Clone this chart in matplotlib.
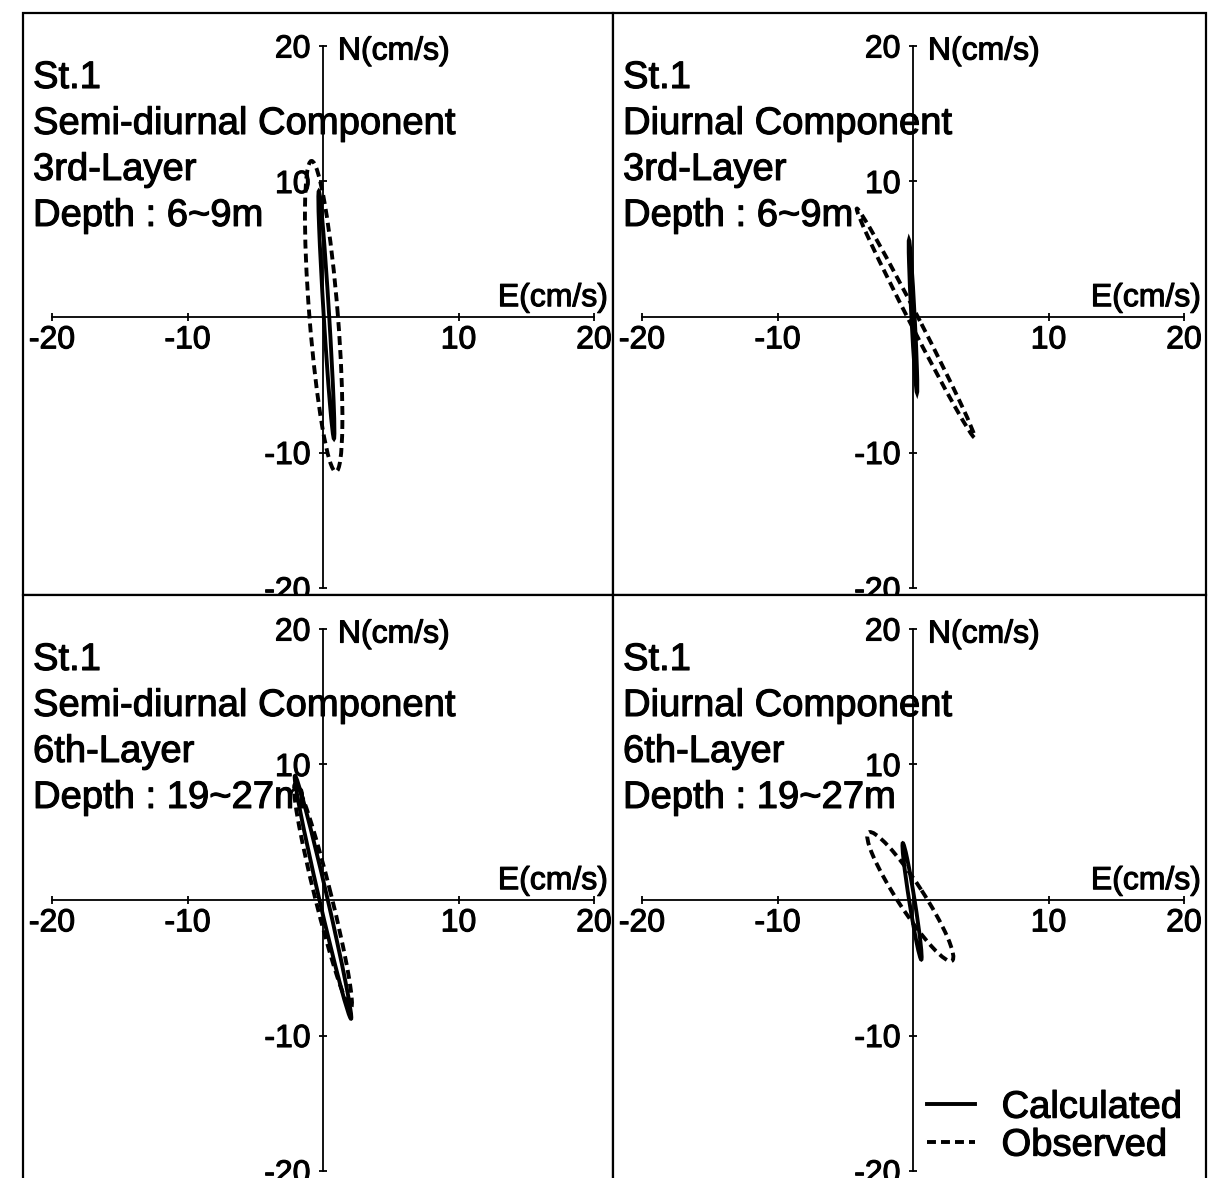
import matplotlib
matplotlib.use("Agg")
import matplotlib.pyplot as plt
import matplotlib.patheffects as pe
from matplotlib.patches import Ellipse, Rectangle
from matplotlib.lines import Line2D

plt.rcParams['font.family'] = ['Liberation Sans', 'DejaVu Sans']
plt.rcParams['axes.unicode_minus'] = False

# ---------------- data ----------------
station = "St.1"
components = ["Semi-diurnal Component", "Diurnal Component",
              "Semi-diurnal Component", "Diurnal Component"]
layers = ["3rd-Layer", "3rd-Layer", "6th-Layer", "6th-Layer"]
depths = ["Depth : 6~9m", "Depth : 6~9m", "Depth : 19~27m", "Depth : 19~27m"]

tick_values = [-20, -10, 10, 20]
x_label = "E(cm/s)"
y_label = "N(cm/s)"
legend_labels = ["Calculated", "Observed"]

# Tidal current ellipses (cm/s): centre E, centre N, semi-major, semi-minor,
# orientation of major axis (deg, counter-clockwise from East)
calc_cx = [0.25, 0.0, 0.0, -0.07]
calc_cy = [0.15, 0.05, 0.2, -0.1]
calc_major = [9.15, 5.65, 9.2, 4.35]
calc_minor = [0.2, 0.12, 0.3, 0.2]
calc_angle = [93.5, 93.0, 103.0, 99.0]

obs_cx = [0.05, 0.2, 0.0, -0.2]
obs_cy = [0.05, -0.45, 0.3, 0.25]
obs_major = [11.5, 9.5, 8.5, 5.65]
obs_minor = [1.05, 0.35, 0.6, 0.95]
obs_angle = [94.5, 117.2, 104.0, 123.0]

# ---------------- layout ----------------
W, H = 1217, 1178
fig = plt.figure(figsize=(W / 100, H / 100), dpi=100)
fig.patch.set_facecolor("white")

# panel boxes in pixels: left, top, right, bottom ; origin pixel x0, y0
boxes = [(23, 13, 613, 595), (613, 13, 1206, 595),
         (23, 595, 613, 1180), (613, 595, 1206, 1180)]
origins = [(323, 317), (913, 317), (323, 900), (913, 900)]
scale = 13.55  # pixels per cm/s

heavy = [pe.withStroke(linewidth=0.8, foreground="black")]
solid_style = dict(color="black", lw=2.8, linestyle="-")
dash_style = dict(color="black", lw=2.8, linestyle=(0, (2.3, 1.3)))

for i in range(4):
    l, t, r, b = boxes[i]
    x0, y0 = origins[i]
    ax = fig.add_axes([l / W, 1 - b / H, (r - l) / W, (b - t) / H])
    ax.set_xlim((l - x0) / scale, (r - x0) / scale)
    ax.set_ylim((y0 - b) / scale, (y0 - t) / scale)
    ax.set_facecolor("white")

    for s in ["top", "right"]:
        ax.spines[s].set_visible(False)
    ax.spines["left"].set_position(("data", 0))
    ax.spines["bottom"].set_position(("data", 0))
    ax.spines["left"].set_bounds(-20, 20)
    ax.spines["bottom"].set_bounds(-20, 20)
    ax.spines["left"].set_linewidth(1.3)
    ax.spines["bottom"].set_linewidth(1.3)

    ax.set_xticks(tick_values)
    ax.set_yticks(tick_values)
    ax.set_xticklabels([str(v) for v in tick_values])
    ax.set_yticklabels([str(v) for v in tick_values])
    ax.tick_params(direction="inout", length=6, width=1.3, labelsize=23)
    ax.tick_params(axis="x", pad=3)
    ax.tick_params(axis="y", pad=6)
    for lab in ax.get_xticklabels() + ax.get_yticklabels():
        lab.set_path_effects(heavy)

    # panel frame
    ax.add_patch(Rectangle((0, 0), 1, 1, transform=ax.transAxes, fill=False,
                           lw=1.6, edgecolor="black", clip_on=False, zorder=5))

    # axis labels
    ax.text(1.1, 19.0, y_label, fontsize=23, ha="left", va="baseline",
            path_effects=heavy)
    ax.text(ax.get_xlim()[1] - 0.35, 0.8, x_label, fontsize=23,
            ha="right", va="baseline", path_effects=heavy)

    # annotation block
    lines = [station, components[i], layers[i], depths[i]]
    for k, txt in enumerate(lines):
        ax.annotate(txt, xy=(0, 1), xycoords="axes fraction",
                    xytext=(7.2, -54 - k * 33.1), textcoords="offset points",
                    ha="left", va="baseline", fontsize=27.5,
                    path_effects=heavy)

    # ellipses
    ax.add_patch(Ellipse((calc_cx[i], calc_cy[i]), 2 * calc_major[i],
                         2 * calc_minor[i], angle=calc_angle[i], fill=False,
                         **solid_style))
    ax.add_patch(Ellipse((obs_cx[i], obs_cy[i]), 2 * obs_major[i],
                         2 * obs_minor[i], angle=obs_angle[i], fill=False,
                         **dash_style))

    if i == 3:
        handles = [Line2D([], [], **solid_style), Line2D([], [], **dash_style)]
        leg = ax.legend(handles, legend_labels, loc="lower right",
                        bbox_to_anchor=(0.96, 0.028), frameon=False,
                        fontsize=27.5, handlelength=1.25, handletextpad=0.7,
                        labelspacing=0.05, borderpad=0, borderaxespad=0)
        for txt in leg.get_texts():
            txt.set_path_effects(heavy)

fig.savefig("out.png", dpi=100, facecolor="white")
